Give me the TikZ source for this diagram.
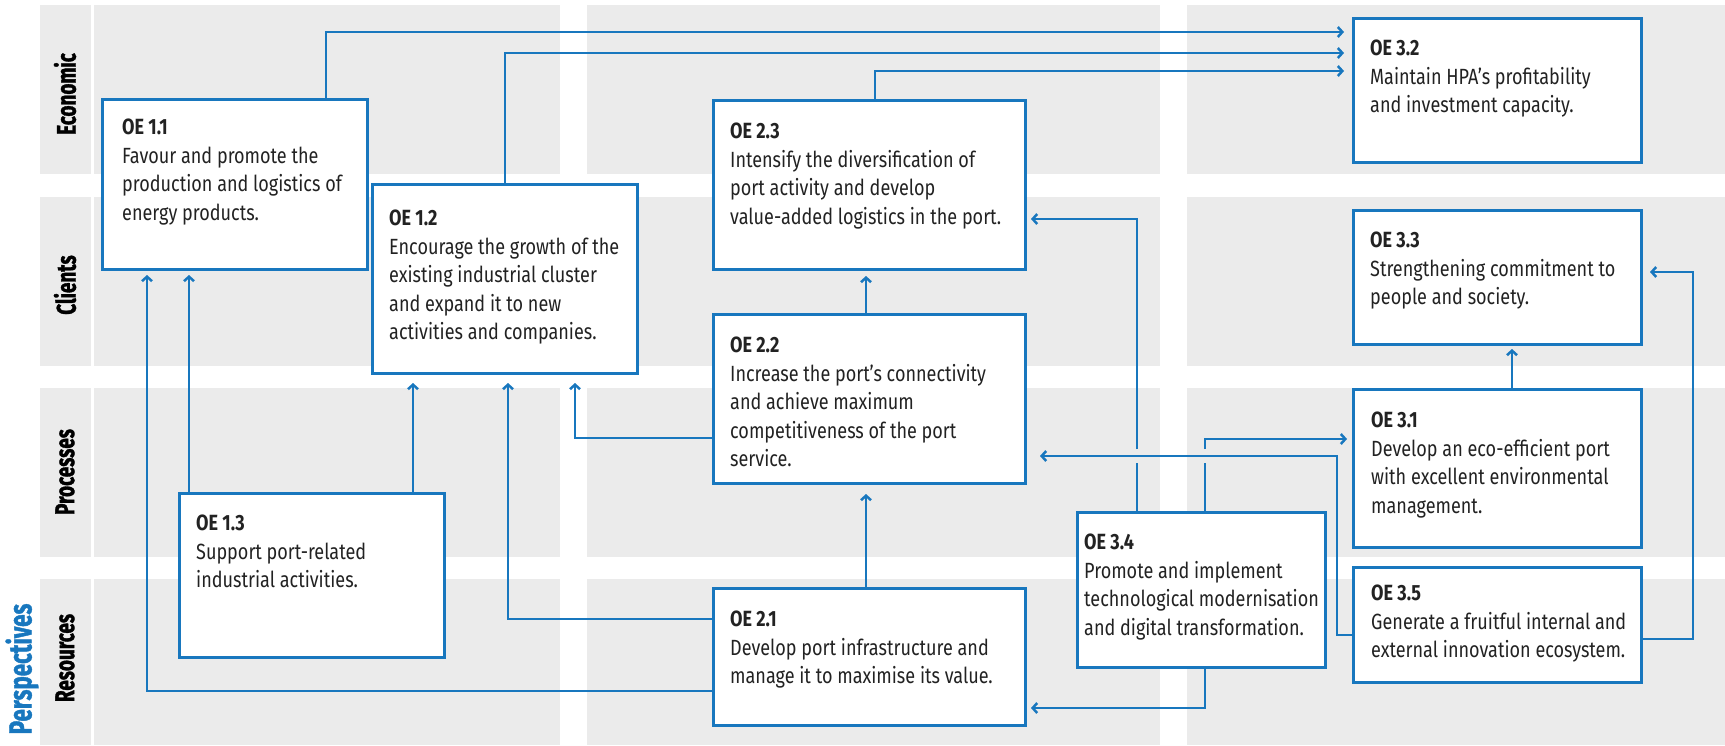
\documentclass[tikz,border=0pt]{standalone}
\usepackage{fontspec}
\setmainfont[FakeStretch=0.82]{Fira Sans}
\newfontfamily\labfont[FakeStretch=0.7,BoldFeatures={FakeBold=1.2}]{Fira Sans}
\usetikzlibrary{arrows.meta}
\definecolor{oeblue}{HTML}{1877BE}
\definecolor{bggray}{HTML}{EBEBEB}
\definecolor{txt}{HTML}{222222}
\tikzset{
  bg/.style={fill=bggray, draw=none},
  oebox/.style={draw=oeblue, line width=3pt, fill=white, rectangle, anchor=north west, inner sep=0pt, outer sep=0pt},
  oetext/.style={anchor=north west, inner sep=0pt, align=left, text=txt, font=\fontsize{22}{28.5}\selectfont},
  rowlab/.style={rotate=90, inner sep=0pt, text=black, font=\labfont\bfseries\fontsize{27}{27}\selectfont},
  conn/.style={draw=oeblue, line width=2.5pt, -{Straight Barb[length=4.5pt,width=10pt]}},
}
\begin{document}
\begin{tikzpicture}[x=1pt,y=-1pt]
\useasboundingbox (0,0) rectangle (1725,745);
% background grid
\foreach \ya/\yb in {5/174,197/366,388/557,579/745}{
  \fill[bggray] (40,\ya) rectangle (91,\yb);
  \fill[bggray] (94,\ya) rectangle (560,\yb);
  \fill[bggray] (587,\ya) rectangle (1160,\yb);
  \fill[bggray] (1187,\ya) rectangle (1725,\yb);
}
% labels
\node[rowlab] (lEco) at (65,94) {Economic};
\node[rowlab] (lCli) at (65,285) {Clients};
\node[rowlab] (lPro) at (65,472) {Processes};
\node[rowlab] (lRes) at (65,658) {Resources};
\node[rotate=90, inner sep=0pt, text=oeblue, font=\labfont\bfseries\fontsize{32}{32}\selectfont] (lPer) at (22,669) {Perspectives};

% boxes
\node[oebox, minimum width=265pt, minimum height=170pt] (b11) at (102,99) {};
\node[oebox, minimum width=265pt, minimum height=189pt] (b12) at (372,184) {};
\node[oebox, minimum width=265pt, minimum height=164pt] (b13) at (179,493) {};
\node[oebox, minimum width=312pt, minimum height=169pt] (b23) at (713,100) {};
\node[oebox, minimum width=312pt, minimum height=169pt] (b22) at (713,314) {};
\node[oebox, minimum width=312pt, minimum height=137pt] (b21) at (713,588) {};
\node[oebox, minimum width=288pt, minimum height=144pt] (b32) at (1353,18) {};
\node[oebox, minimum width=288pt, minimum height=134pt] (b33) at (1353,210) {};
\node[oebox, minimum width=288pt, minimum height=158pt] (b31) at (1353,389) {};
\node[oebox, minimum width=288pt, minimum height=115pt] (b35) at (1353,567) {};
\node[oebox, minimum width=248pt, minimum height=155pt] (b34) at (1077,512) {};

% texts
\node[oetext] (t11) at ([shift={(20,20)}]b11.north west) {\textbf{OE 1.1}\\Favour and promote the\\production and logistics of\\energy products.};
\node[oetext] (t12) at ([shift={(17,26)}]b12.north west) {\textbf{OE 1.2}\\Encourage the growth of the\\existing industrial cluster\\and expand it to new\\activities and companies.};
\node[oetext] (t13) at ([shift={(17,22)}]b13.north west) {\textbf{OE 1.3}\\Support port-related\\industrial activities.};
\node[oetext] (t23) at ([shift={(17,23)}]b23.north west) {\textbf{OE 2.3}\\Intensify the diversification of\\port activity and develop\\value-added logistics in the port.};
\node[oetext] (t22) at ([shift={(17,23)}]b22.north west) {\textbf{OE 2.2}\\Increase the port's connectivity\\and achieve maximum\\competitiveness of the port\\service.};
\node[oetext] (t21) at ([shift={(17,23)}]b21.north west) {\textbf{OE 2.1}\\Develop port infrastructure and\\manage it to maximise its value.};
\node[oetext] (t32) at ([shift={(17,22)}]b32.north west) {\textbf{OE 3.2}\\Maintain HPA's profitability\\and investment capacity.};
\node[oetext] (t33) at ([shift={(17,22)}]b33.north west) {\textbf{OE 3.3}\\Strengthening commitment to\\people and society.};
\node[oetext] (t31) at ([shift={(18,23)}]b31.north west) {\textbf{OE 3.1}\\Develop an eco-efficient port\\with excellent environmental\\management.};
\node[oetext] (t35) at ([shift={(18,18)}]b35.north west) {\textbf{OE 3.5}\\Generate a fruitful internal and\\external innovation ecosystem.};
\node[oetext] (t34) at ([shift={(7,22)}]b34.north west) {\textbf{OE 3.4}\\Promote and implement\\technological modernisation\\and digital transformation.};

% connectors
\draw[conn, shorten >=9pt] (326,0 |- b11.north) |- (b32.west |- 0,32);
\draw[conn, shorten >=9pt] (505,0 |- b12.north) |- (b32.west |- 0,53);
\draw[conn, shorten >=9pt] (875,0 |- b23.north) |- (b32.west |- 0,71);
\draw[conn, shorten >=7pt] (866,0 |- b22.north) -- (866,0 |- b23.south);
\draw[conn, shorten >=6pt] (189,0 |- b13.north) -- (189,0 |- b11.south);
\draw[conn, shorten >=6pt] (b21.west |- 0,691) -| (147,0 |- b11.south);
\draw[conn, shorten >=10pt] (413,0 |- b13.north) -- (413,0 |- b12.south);
\draw[conn, shorten >=10pt] (b21.west |- 0,619) -| (508,0 |- b12.south);
\draw[conn, shorten >=10pt] (b22.west |- 0,438) -| (575,0 |- b12.south);
\draw[conn, shorten >=11pt] (866,0 |- b21.north) -- (866,0 |- b22.south);
\draw[conn, shorten >=6pt] (1137,0 |- b34.north) -- (1137,463) (1137,449) |- (b23.east |- 0,219);
\draw[conn, shorten >=15pt] (b35.west |- 0,635) -| (1337,456) -- (b22.east |- 0,456);
\draw[conn, shorten >=6pt] (1205,0 |- b34.north) -- (1205,463) (1205,449) |- (b31.west |- 0,439);
\draw[conn, shorten >=5pt] (1512,0 |- b31.north) -- (1512,0 |- b33.south);
\draw[conn, shorten >=9pt] (b35.east |- 0,639) -| (1693,272) -- (b33.east |- 0,272);
\draw[conn, shorten >=6pt] (1205,0 |- b34.south) |- (b21.east |- 0,708);
\end{tikzpicture}
\end{document}
